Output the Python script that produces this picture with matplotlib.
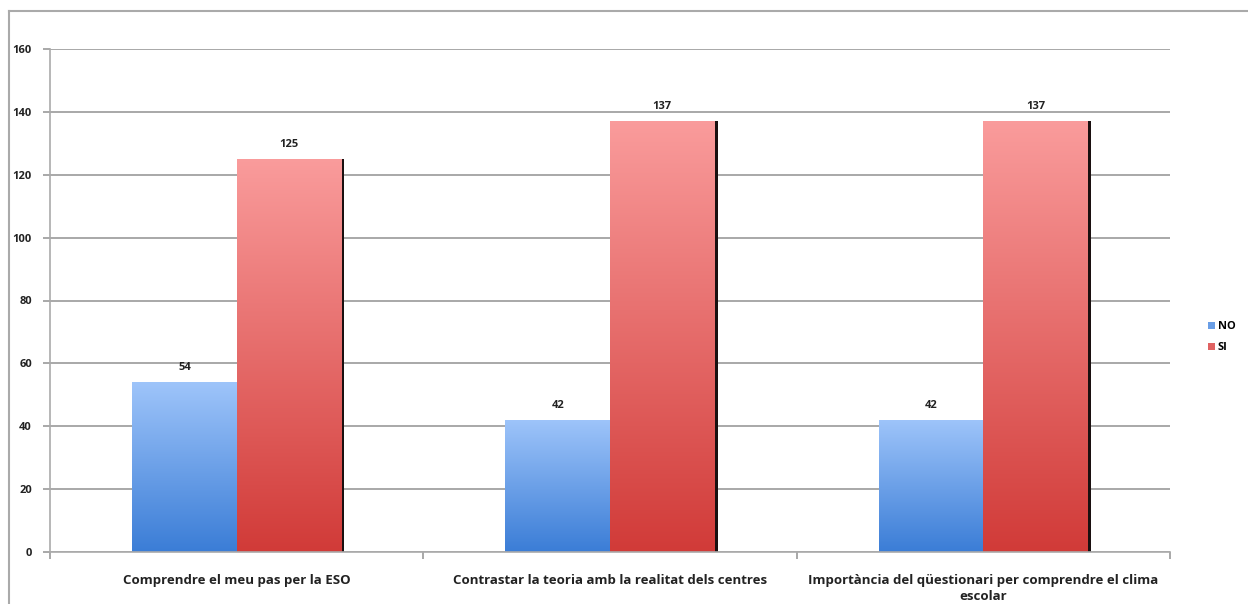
import matplotlib
matplotlib.use("Agg")
import matplotlib.pyplot as plt
import numpy as np
from matplotlib.colors import LinearSegmentedColormap
from matplotlib.patches import Patch
from matplotlib.lines import Line2D

categories = ["Comprendre el meu pas per la ESO",
              "Contrastar la teoria amb la realitat dels centres",
              "Importància del qüestionari per comprendre el clima\nescolar"]
series_names = ["NO", "SI"]
no_values = [54, 42, 42]
si_values = [125, 137, 137]
yticks = [0, 20, 40, 60, 80, 100, 120, 140, 160]

plt.rcParams['font.family'] = ['Open Sans', 'DejaVu Sans']

fig = plt.figure(figsize=(12.48, 6.04), dpi=100)
ax = fig.add_axes([50/1248, 1-552/604, 1120/1248, (552-49)/604])

x = np.arange(len(categories))
w = 0.28
grad_specs = [
    (no_values, -w/2, [(0.23, 0.49, 0.84), (0.62, 0.77, 0.98)]),
    (si_values, w/2, [(0.82, 0.23, 0.22), (0.98, 0.61, 0.61)]),
]

# shadows
ax.bar(x + w/2 + 0.008, si_values, w, color="#1a1010", zorder=1.5, linewidth=0)

for vals, off, cols in grad_specs:
    cmap = LinearSegmentedColormap.from_list("g", cols)
    bars = ax.bar(x + off, vals, w, color="none", linewidth=0, zorder=2)
    for b, v in zip(bars, vals):
        grad = np.linspace(0, 1, 256).reshape(-1, 1)
        im = ax.imshow(grad, cmap=cmap, origin="lower", aspect="auto",
                       extent=[b.get_x(), b.get_x() + b.get_width(), 0, v],
                       zorder=2)
        im.set_clip_path(b)
        ax.text(b.get_x() + b.get_width()/2, v + 3, str(v), ha="center",
                va="bottom", fontsize=8, fontweight="bold", color="#222222")

ax.set_xlim(-0.5, 2.5)
ax.set_ylim(0, 160)
ax.set_yticks(yticks)
ax.set_yticklabels([str(t) for t in yticks], fontsize=8, fontweight="bold", color="#222222")
ax.set_xticks(x)
ax.set_xticklabels(categories, fontsize=9.5, fontweight="bold", color="#222222",
                   linespacing=1.3)
ax.set_xticks([-0.5, 0.5, 1.5, 2.5], minor=True)
ax.tick_params(axis="x", which="major", length=0, pad=16)
ax.tick_params(axis="x", which="minor", length=5, color="#999999", width=1.2)
ax.tick_params(axis="y", length=5, color="#999999", width=1.2, pad=8)
ax.grid(axis="y", color="#999999", linewidth=1.2, zorder=0)
ax.set_axisbelow(True)
for s in ["top", "right"]:
    ax.spines[s].set_visible(False)
for s in ["left", "bottom"]:
    ax.spines[s].set_color("#aaaaaa")
    ax.spines[s].set_linewidth(1.2)

handles = [Patch(facecolor="#6a9ee6", edgecolor="none"),
           Patch(facecolor="#e06262", edgecolor="none")]
fig.legend(handles, series_names, loc="center left",
           bbox_to_anchor=(1198/1248, 1-337/604), frameon=False,
           prop={"size": 8, "weight": "bold"}, handlelength=0.6,
           handleheight=0.6, handletextpad=0.3, labelspacing=0.9)

fig.add_artist(Line2D([9/1248, 1], [1-11/604, 1-11/604], color="#aaaaaa", lw=1.5))
fig.add_artist(Line2D([9/1248, 9/1248], [0, 1-11/604], color="#aaaaaa", lw=1.5))

fig.savefig("out.png", dpi=100)
